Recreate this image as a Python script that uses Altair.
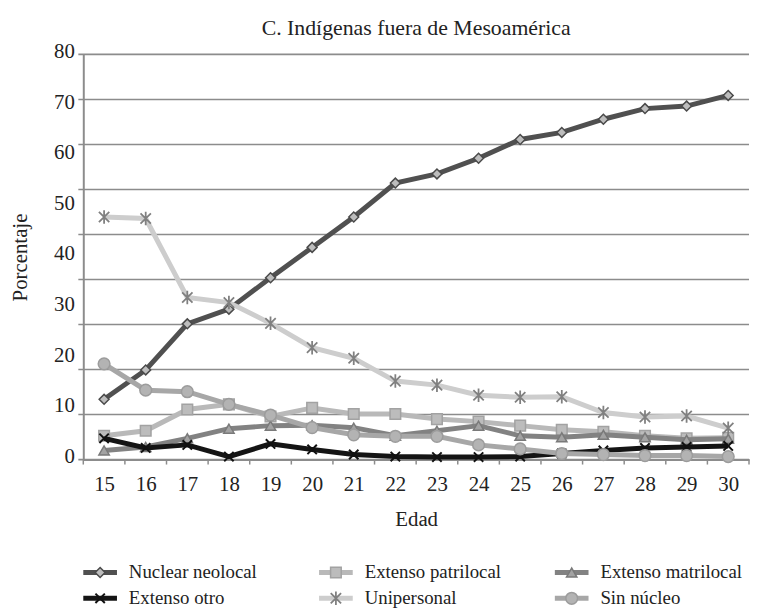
import altair as alt
import pandas as pd

# ---------------- data ----------------
ages = list(range(15, 31))
series_names = ["Nuclear neolocal", "Extenso patrilocal", "Extenso matrilocal",
                "Extenso otro", "Unipersonal", "Sin núcleo"]
nuclear_neolocal = [11.9, 17.7, 26.8, 29.7, 35.9, 41.9, 47.9, 54.6, 56.4, 59.5, 63.2, 64.6, 67.2, 69.3, 69.8, 71.9]
extenso_patrilocal = [4.7, 5.7, 9.9, 10.9, 8.5, 10.2, 9.0, 9.0, 8.0, 7.5, 6.7, 5.9, 5.5, 4.7, 4.2, 4.3]
extenso_matrilocal = [1.8, 2.5, 4.2, 6.1, 6.7, 6.8, 6.3, 4.7, 5.7, 6.7, 4.7, 4.4, 4.9, 4.4, 3.9, 4.1]
extenso_otro = [4.2, 2.3, 2.9, 0.6, 3.1, 2.0, 1.0, 0.6, 0.5, 0.5, 0.6, 1.2, 1.8, 2.3, 2.5, 2.7]
unipersonal = [47.9, 47.6, 32.0, 31.0, 26.9, 22.1, 20.0, 15.5, 14.7, 12.7, 12.3, 12.4, 9.3, 8.4, 8.6, 6.2]
sin_nucleo = [18.9, 13.7, 13.4, 10.9, 8.8, 6.3, 4.9, 4.6, 4.6, 2.9, 2.1, 1.2, 1.0, 0.8, 0.8, 0.6]
y_ticks = [0, 10, 20, 30, 40, 50, 60, 70, 80]
n_grid = 9

values = {
    "Nuclear neolocal": nuclear_neolocal,
    "Extenso patrilocal": extenso_patrilocal,
    "Extenso matrilocal": extenso_matrilocal,
    "Extenso otro": extenso_otro,
    "Unipersonal": unipersonal,
    "Sin núcleo": sin_nucleo,
}

# ---------------- styles ----------------
X_PATH = "M-1,-1L1,1M-1,1L1,-1"
STAR_PATH = "M-1,-1L1,1M-1,1L1,-1M0,-1.3L0,1.3"
style = {
    "Nuclear neolocal":   dict(line="#505050", shape="diamond", fill="#bdbdbd", stroke="#4a4a4a", size=100, sw=1.5),
    "Extenso patrilocal": dict(line="#b9b9b9", shape="square", fill="#bcbcbc", stroke="#a2a2a2", size=115, sw=1.5),
    "Extenso matrilocal": dict(line="#828282", shape="triangle-up", fill="#a3a3a3", stroke="#7a7a7a", size=110, sw=1.5),
    "Extenso otro":       dict(line="#141414", shape=X_PATH, fill="transparent", stroke="#111111", size=90, sw=2),
    "Unipersonal":        dict(line="#cdcdcd", shape=STAR_PATH, fill="transparent", stroke="#808080", size=110, sw=1.8),
    "Sin núcleo":         dict(line="#a7a7a7", shape="circle", fill="#b3b3b3", stroke="#9c9c9c", size=140, sw=1.5),
}

FONT = "Liberation Serif"
TXT = "#222222"
GRID = "#8c8c8c"

rows = []
for name in series_names:
    for a, v in zip(ages, values[name]):
        rows.append({"serie": name, "edad": a, "pct": v})
df = pd.DataFrame(rows)

X = alt.X("edad:Q",
          scale=alt.Scale(domain=[14.5, 30.5], nice=False, zero=False),
          axis=alt.Axis(values=ages, title="Edad", grid=False, ticks=False, format="d",
                        labelOverlap=False, labelFlush=False,
                        domainColor=GRID, domainWidth=2,
                        labelFont=FONT, labelFontSize=21, labelColor=TXT, labelPadding=14,
                        titleFont=FONT, titleFontSize=21, titleFontWeight="normal",
                        titleColor=TXT, titlePadding=15))
Y = alt.Y("pct:Q",
          scale=alt.Scale(domain=[0, 80], nice=False),
          axis=alt.Axis(values=y_ticks, title="Porcentaje", grid=False, ticks=False,
                        domainColor=GRID, domainWidth=2,
                        labelFont=FONT, labelFontSize=21, labelColor=TXT,
                        labelPadding=9, labelOffset=-3,
                        titleFont=FONT, titleFontSize=21, titleFontWeight="normal",
                        titleColor=TXT, titlePadding=23))

# horizontal gridlines (9 equal intervals, extending a little left of the axis)
grid_df = pd.DataFrame({"pct": [80.0 * k / n_grid for k in range(n_grid + 1)]})
grid = alt.Chart(grid_df).mark_rule(color=GRID, strokeWidth=1.6, xOffset=-5).encode(
    x=alt.datum(14.5), x2=alt.datum(30.5), y=Y)

# x tick marks between categories
tick_df = pd.DataFrame({"edad": [14.5 + i for i in range(17)]})
xticks = alt.Chart(tick_df).mark_rule(color=GRID, strokeWidth=1.5, y2Offset=5, clip=False).encode(
    x=X, y=alt.datum(0), y2=alt.datum(0))

layers = [grid, xticks]
for name in series_names:
    s = style[name]
    base = alt.Chart(df).transform_filter(alt.datum.serie == name)
    layers.append(base.mark_line(color=s["line"], strokeWidth=5).encode(x=X, y=Y))
    layers.append(base.mark_point(shape=s["shape"], filled=True, fill=s["fill"], stroke=s["stroke"],
                                  strokeWidth=s["sw"], size=s["size"], opacity=1).encode(x=X, y=Y))

main = alt.layer(*layers).properties(
    width=672, height=409,
    title=alt.TitleParams("C. Indígenas fuera de Mesoamérica", font=FONT, fontSize=22,
                          fontWeight="normal", color=TXT, offset=1, frame="group"))

# ---------------- legend ----------------
leg_rows = []
for i, name in enumerate(series_names):
    s = style[name]
    leg_rows.append({"serie": name, "col": i % 3, "row": i // 3, "lc": s["line"],
                     "shp": s["shape"], "fl": s["fill"], "st": s["stroke"],
                     "sz": s["size"], "sw": s["sw"]})
leg = pd.DataFrame(leg_rows)
LX = alt.X("col:Q", scale=alt.Scale(domain=[0, 2], nice=False, zero=False), axis=None)
LY = alt.Y("row:Q", scale=alt.Scale(domain=[0, 1], reverse=True, nice=False), axis=None)
lbase = alt.Chart(leg)
leg_line = lbase.mark_rule(strokeWidth=5, x2Offset=34).encode(
    x=LX, x2=alt.X2("col:Q"), y=LY, color=alt.Color("lc:N", scale=None))
leg_pt = lbase.mark_point(xOffset=17, filled=True, opacity=1).encode(
    x=LX, y=LY,
    shape=alt.Shape("shp:N", scale=None),
    fill=alt.Fill("fl:N", scale=None),
    stroke=alt.Stroke("st:N", scale=None),
    size=alt.Size("sz:Q", scale=None),
    strokeWidth=alt.StrokeWidth("sw:Q", scale=None))
leg_txt = lbase.mark_text(align="left", baseline="middle", dx=46, font=FONT,
                          fontSize=19, color=TXT).encode(x=LX, y=LY, text="serie:N")
legend = alt.layer(leg_line, leg_pt, leg_txt).properties(width=476, height=26)

chart = alt.vconcat(main, legend, spacing=34).properties(
    padding={"left": 2, "top": 6, "right": 0, "bottom": 0}
).configure_view(strokeWidth=0)

chart.save("out.html", embed_options={"renderer": "svg", "actions": False})
